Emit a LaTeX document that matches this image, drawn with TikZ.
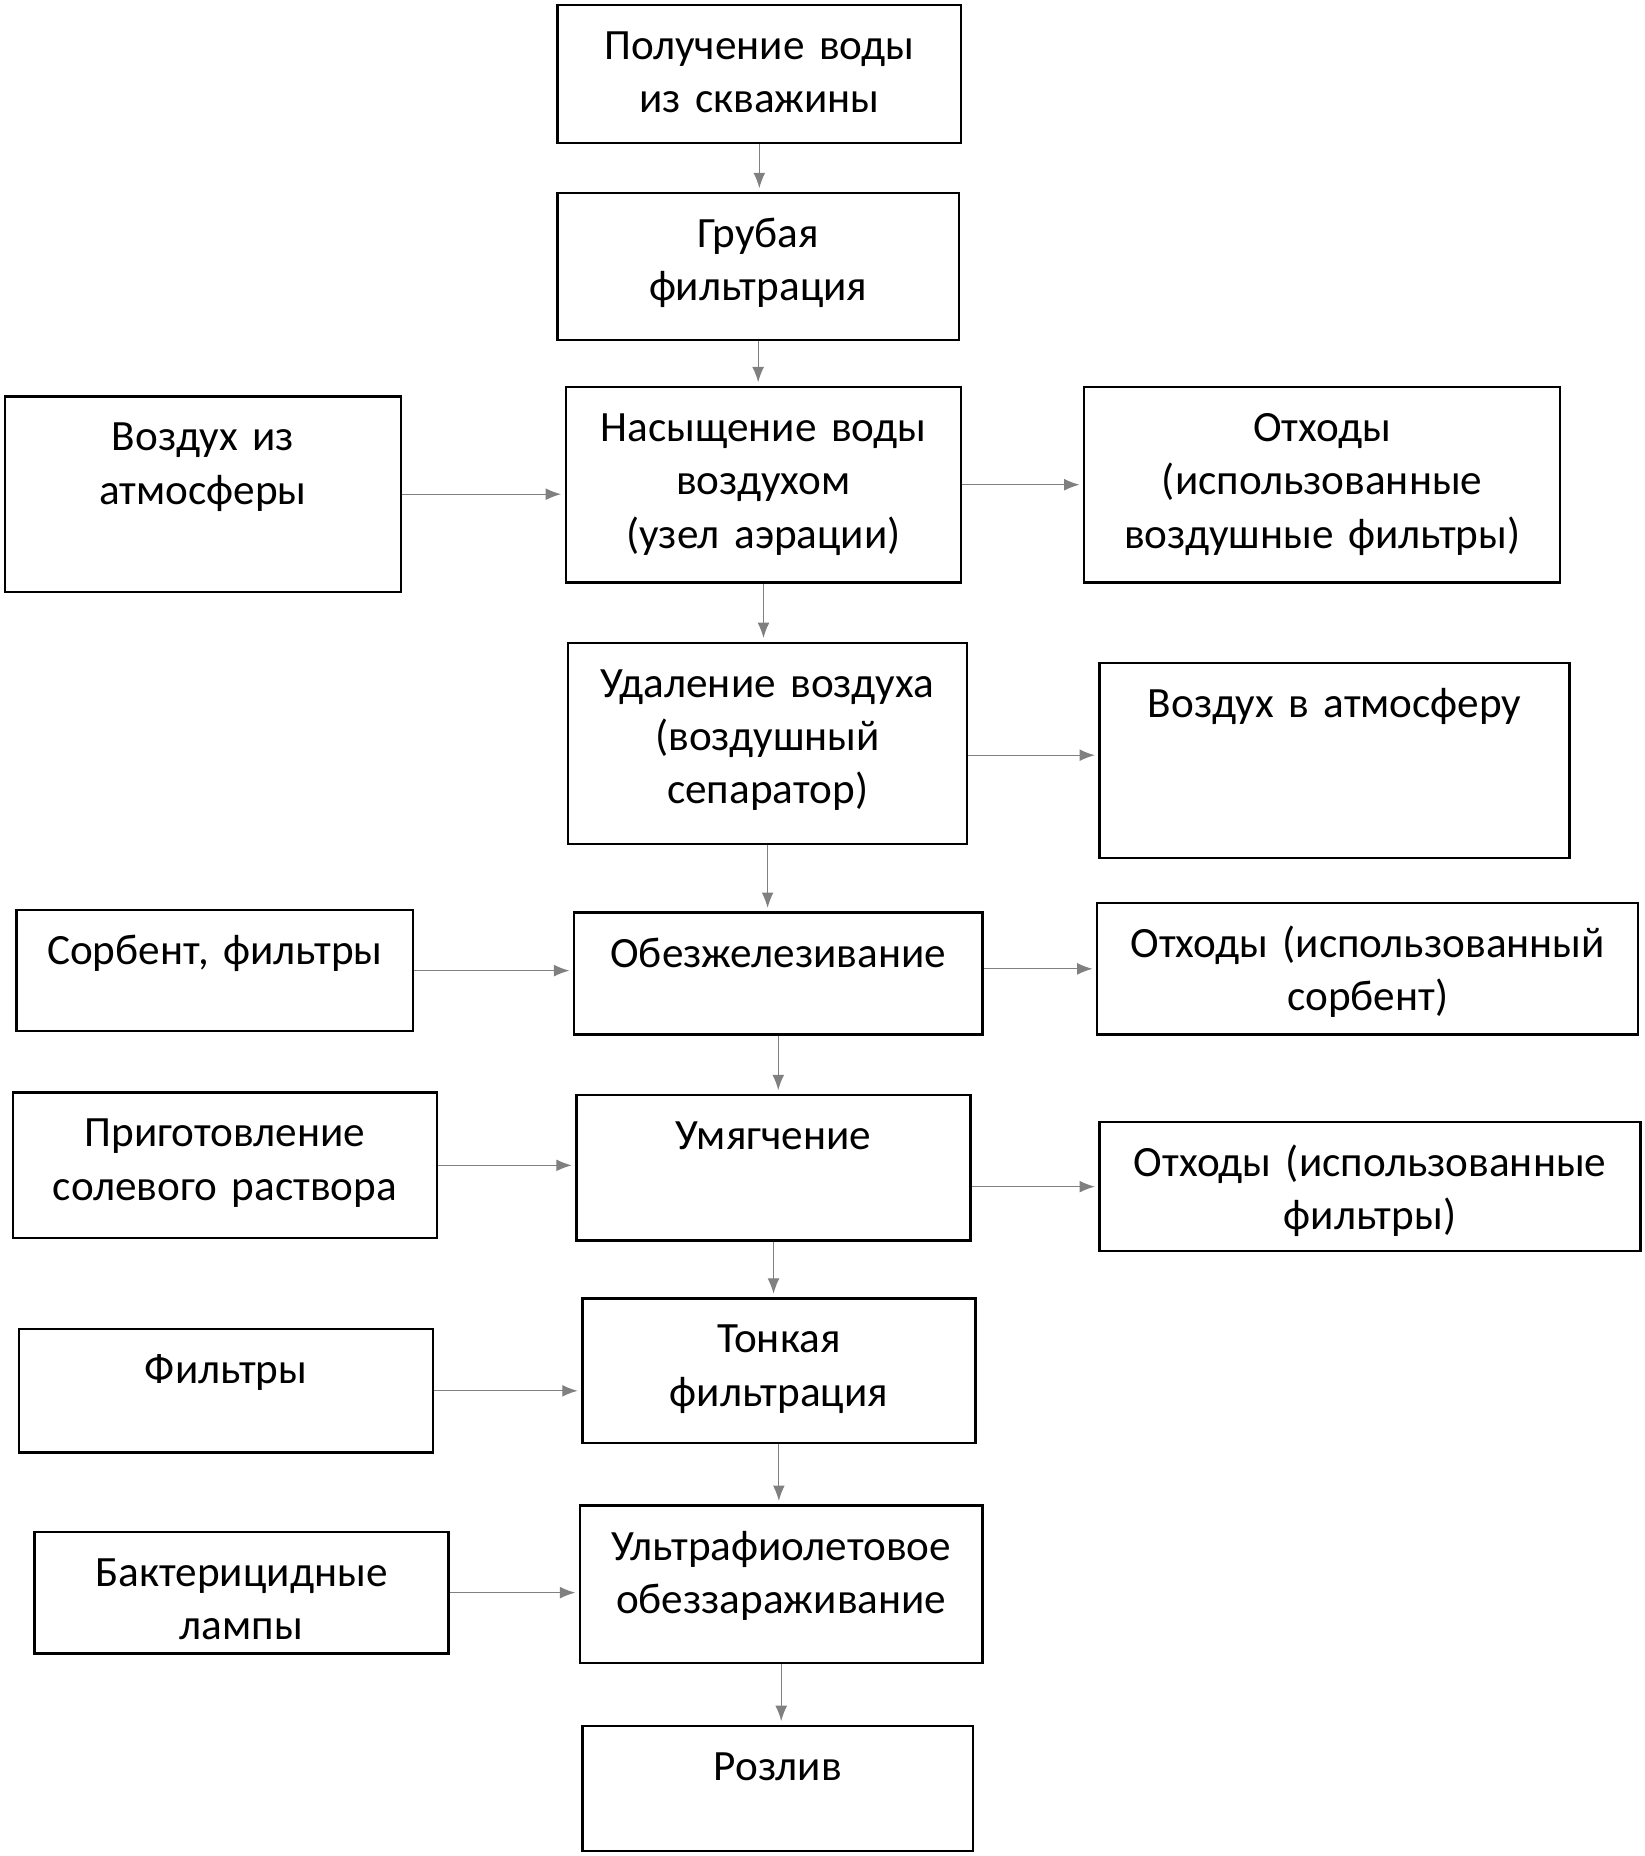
\documentclass[tikz,border=0pt]{standalone}
\usepackage{fontspec}
\setmainfont{Carlito}[WordSpace=0.8]
\usepackage{tikz}
\usetikzlibrary{arrows.meta}

\tikzset{
  stage/.style 2 args={draw, line width=2pt, inner sep=0pt, anchor=north west, align=center,
    font=\fontsize{36.5pt}{45pt}\selectfont,
    text width=#1pt, text height=46pt, text depth=#2pt-46pt},
  flow/.style={draw=gray, line width=1pt, -{Latex[length=13pt,width=10pt]}, shorten >=3pt}
}

\begin{document}
\begin{tikzpicture}[x=1pt,y=-1pt]
                \useasboundingbox (0,0) rectangle (1389,1568);
                % main line
                \node[stage={341}{117}] (well) at (470,3) {Получение воды\\из скважины};
                \node[stage={339}{124}] (coarse) at (470,162) {Грубая\\фильтрация};
                \node[stage={334}{165}] (aerate) at (477,326) {Насыщение воды\\воздухом\\(узел аэрации)};
                \node[stage={337}{170}] (degas) at (479,542) {Удаление воздуха\\(воздушный\\сепаратор)};
                \node[stage={345}{103}] (iron) at (484,770) {Обезжелезивание};
                \node[stage={333}{123}] (soften) at (486,924) {Умягчение};
                \node[stage={332}{122}] (fine) at (491,1096) {Тонкая\\фильтрация};
                \node[stage={340}{133}] (uv) at (489,1271) {Ультрафиолетовое\\обеззараживание};
                \node[stage={330}{106}] (bottle) at (491,1457) {Розлив};
                % inputs
                \node[stage={335}{165}] (airin) at (3,334) {Воздух из\\атмосферы};
                \node[stage={335}{102}] (sorbent) at (13,768) {Сорбент, фильтры};
                \node[stage={358}{123}] (brine) at (10,922) {Приготовление\\солевого раствора};
                \node[stage={350}{104}] (filters) at (15,1122) {Фильтры};
                \node[stage={350}{103}] (lamps) at (28,1293) {Бактерицидные\\лампы};
                % outputs
                \node[stage={402}{165}] (wasteair) at (915,326) {Отходы\\(использованные\\воздушные фильтры)};
                \node[stage={397}{165}] (airout) at (928,559) {Воздух в атмосферу};
                \node[stage={457}{111}] (wastesorb) at (926,762) {Отходы (использованный\\сорбент)};
                \node[stage={457}{109}] (wastefilt) at (928,947) {Отходы (использованные\\фильтры)};
                % arrows
                \draw[flow] (well) -- (well |- coarse.north);
                \draw[flow] (coarse) -- (coarse |- aerate.north);
                \draw[flow] (aerate) -- (aerate |- degas.north);
                \draw[flow] (degas) -- (degas |- iron.north);
                \draw[flow] (iron) -- (iron |- soften.north);
                \draw[flow] (soften) -- (soften |- fine.north);
                \draw[flow] (fine) -- (fine |- uv.north);
                \draw[flow] (uv) -- (uv |- bottle.north);
                \draw[flow] (airin) -- (airin -| aerate.west);
                \draw[flow] (sorbent) -- (sorbent -| iron.west);
                \draw[flow] (brine) -- (brine -| soften.west);
                \draw[flow] (filters) -- (filters -| fine.west);
                \draw[flow] (lamps) -- (lamps -| uv.west);
                \draw[flow] (aerate) -- (aerate -| wasteair.west);
                \draw[flow] ([yshift=-10pt]degas.east) -- ([yshift=-10pt]degas.east -| airout.west);
                \draw[flow] (iron.east |- wastesorb) -- (wastesorb);
                \draw[flow] (soften.east |- wastefilt) -- (wastefilt);
\end{tikzpicture}
\end{document}
